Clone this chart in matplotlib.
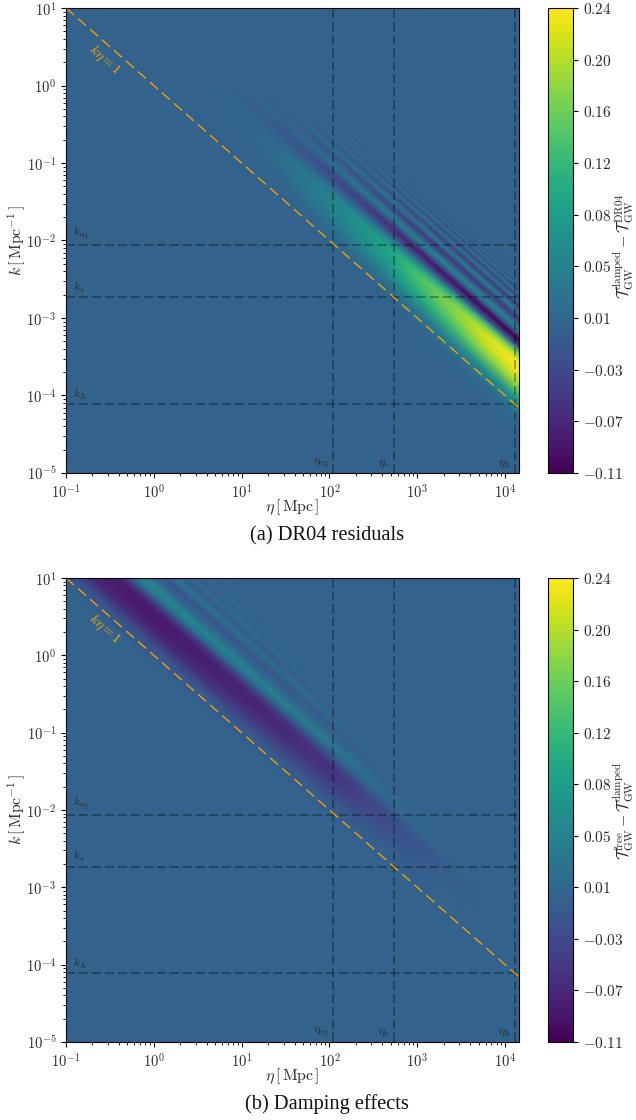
import numpy as np
import matplotlib
matplotlib.use("Agg")
import matplotlib.pyplot as plt
from matplotlib.ticker import FuncFormatter, LogLocator, NullFormatter

plt.rcParams["mathtext.fontset"] = "cm"
plt.rcParams["font.family"] = "Liberation Serif"

# horizon crossing scales
eta_eq, eta_star, eta_lam = 110, 540, 13000
k_eq, k_star, k_lam = 8.7e-3, 1.85e-3, 7.7e-5
eta_max = 14400

eta_ticks = [1e-1, 1e0, 1e1, 1e2, 1e3, 1e4]
k_ticks = [1e-5, 1e-4, 1e-3, 1e-2, 1e-1, 1e0, 1e1]

# panel (a): residual read along lines of constant log10(k*eta)
eta_a = [0.1, 3, 10, 30, 100, 250, 540, 1000, 2500, 6000, 14400]
u_a = [-7, -0.4, -0.1, 0.1, 0.3, 0.45, 0.58, 0.68, 0.77, 0.875, 0.95, 1.02,
       1.146, 1.23, 1.31, 1.37, 1.43, 1.477, 1.525, 1.562, 1.60, 1.633,
       1.667, 1.695, 1.724, 1.748, 1.775, 1.85, 5.3]
residual_a = [
    [0, 0, 0, 0, 0, 0, 0, 0, 0, 0, 0],
    [0, 0, 0, 0, 0, 0, 0, 0, 0, 0, 0],
    [0, 0, 0, 0, 0, 0, 0, .003, .006, .01, .015],
    [0, 0, 0, 0, .008, .012, .02, .03, .045, .06, .08],
    [0, 0, 0, .008, .03, .05, .072, .1, .135, .17, .195],
    [0, 0, .002, .015, .042, .07, .095, .13, .17, .21, .235],
    [0, 0, .003, .015, .042, .07, .1, .135, .175, .215, .24],
    [0, 0, .002, .01, .028, .045, .065, .09, .125, .16, .185],
    [0, 0, -.001, -.004, -.008, -.01, -.01, -.005, 0, .005, .01],
    [0, 0, -.002, -.012, -.032, -.048, -.065, -.08, -.095, -.105, -.11],
    [0, 0, -.001, -.005, -.01, -.015, -.02, -.02, -.02, -.02, -.02],
    [0, 0, 0, .001, .018, .03, .04, .048, .05, .05, .05],
    [0, 0, -.001, -.004, -.018, -.026, -.038, -.05, -.055, -.055, -.055],
    [0, 0, 0, .001, .014, .02, .026, .03, .035, .04, .04],
    [0, 0, 0, -.002, -.014, -.02, -.028, -.036, -.045, -.05, -.05],
    [0, 0, 0, 0, .009, .014, .019, .023, .028, .03, .032],
    [0, 0, 0, -.001, -.009, -.014, -.02, -.027, -.035, -.04, -.042],
    [0, 0, 0, 0, .005, .009, .013, .017, .022, .025, .028],
    [0, 0, 0, 0, -.004, -.008, -.013, -.019, -.026, -.03, -.034],
    [0, 0, 0, 0, .002, .005, .009, .013, .017, .02, .022],
    [0, 0, 0, 0, -.002, -.004, -.008, -.012, -.018, -.022, -.026],
    [0, 0, 0, 0, 0, .002, .005, .008, .012, .015, .017],
    [0, 0, 0, 0, 0, -.002, -.004, -.007, -.011, -.015, -.018],
    [0, 0, 0, 0, 0, 0, .003, .005, .008, .011, .013],
    [0, 0, 0, 0, 0, 0, -.001, -.003, -.007, -.01, -.012],
    [0, 0, 0, 0, 0, 0, .001, .003, .005, .007, .008],
    [0, 0, 0, 0, 0, 0, 0, -.001, -.003, -.005, -.006],
    [0, 0, 0, 0, 0, 0, 0, 0, 0, 0, 0],
    [0, 0, 0, 0, 0, 0, 0, 0, 0, 0, 0],
]

# panel (b): damped vs free
eta_b = [0.1, 1, 3, 10, 30, 100, 250, 540, 1000, 2500, 14400]
u_b = [-7, -0.15, 0.1, 0.3, 0.45, 0.58, 0.68, 0.77, 0.875, 0.98, 1.125,
       1.24, 1.34, 1.43, 1.52, 1.6, 1.67, 1.75, 1.85, 5.3]
residual_b = [
    [0, 0, 0, 0, 0, 0, 0, 0, 0, 0, 0],
    [0, 0, 0, 0, 0, 0, 0, 0, 0, 0, 0],
    [-.02, -.02, -.018, -.015, -.012, -.008, -.005, -.003, -.002, 0, 0],
    [-.07, -.07, -.065, -.055, -.045, -.035, -.022, -.015, -.01, -.003, 0],
    [-.085, -.085, -.08, -.072, -.065, -.055, -.035, -.024, -.015, -.005, 0],
    [-.085, -.085, -.08, -.075, -.07, -.06, -.04, -.028, -.018, -.006, 0],
    [-.05, -.05, -.05, -.05, -.045, -.035, -.02, -.012, -.008, -.002, 0],
    [.01, .01, .01, .008, .005, .002, .001, .001, 0, 0, 0],
    [.05, .05, .05, .045, .04, .03, .018, .01, .004, 0, 0],
    [.015, .015, .015, .012, .008, .005, .003, .001, 0, 0, 0],
    [-.02, -.02, -.02, -.018, -.015, -.01, -.006, -.002, 0, 0, 0],
    [.025, .025, .025, .02, .015, .012, .006, .002, 0, 0, 0],
    [-.012, -.012, -.012, -.011, -.009, -.006, -.003, -.001, 0, 0, 0],
    [.015, .015, .015, .012, .009, .006, .003, .001, 0, 0, 0],
    [-.007, -.007, -.007, -.006, -.005, -.003, -.001, 0, 0, 0, 0],
    [.009, .009, .009, .007, .005, .003, .001, 0, 0, 0, 0],
    [-.004, -.004, -.004, -.003, -.002, -.001, 0, 0, 0, 0, 0],
    [.004, .004, .004, .003, .002, .001, 0, 0, 0, 0, 0],
    [0, 0, 0, 0, 0, 0, 0, 0, 0, 0, 0],
    [0, 0, 0, 0, 0, 0, 0, 0, 0, 0, 0],
]

vmin, vmax = -0.11, 0.24
cbar_ticks = np.linspace(vmin, vmax, 10)

W, H = 636, 1120
fig = plt.figure(figsize=(W / 100, H / 100), dpi=100)
TEXT = "#2b2b2b"


def box(left, top, right, bottom):
    return [left / W, 1 - bottom / H, (right - left) / W, (bottom - top) / H]


def panel(top, bottom, etas, us, table, label, label_y, caption, cap_y):
    ax = fig.add_axes(box(66, top, 519, bottom))
    cax = fig.add_axes(box(548, top, 573, bottom))

    eta_grid, u_grid = np.meshgrid(etas, us)
    k_grid = 10.0 ** u_grid / eta_grid
    mesh = ax.pcolormesh(eta_grid, k_grid, np.array(table), shading="gouraud",
                         cmap="viridis", vmin=vmin, vmax=vmax)
    ax.set_xscale("log")
    ax.set_yscale("log")

    # reference scales
    dash = dict(color="black", alpha=0.4, lw=1.1, dashes=(5.9, 2.6))
    for e in (eta_eq, eta_star, eta_lam):
        ax.axvline(e, **dash)
    for k in (k_eq, k_star, k_lam):
        ax.axhline(k, **dash)

    eta_line = np.array([0.1, eta_max])
    ax.plot(eta_line, 1 / eta_line, color="orange", lw=0.9, dashes=(8.5, 4.3))

    for k, name in zip((k_eq, k_star, k_lam),
                       (r"$k_{\rm eq}$", r"$k_{*}$", r"$k_{\Lambda}$")):
        ax.annotate(name, (0.1, k), xytext=(5, 2), textcoords="offset points",
                    fontsize=8.5, color=TEXT, va="bottom", ha="left")
    for e, name in zip((eta_eq, eta_star, eta_lam),
                       (r"$\eta_{\rm eq}$", r"$\eta_{*}$", r"$\eta_{\Lambda}$")):
        ax.annotate(name, (e, 1e-5), xytext=(-3, 2), textcoords="offset points",
                    fontsize=8.5, color=TEXT, va="bottom", ha="right")
    ax.text(0.278, 2.15, r"$k\eta = 1$", color="orange", fontsize=10, rotation=-41,
            ha="center", va="center", rotation_mode="anchor")

    ax.set_xlabel(r"$\eta\,[\,\mathrm{Mpc}\,]$", fontsize=11.5, color=TEXT, labelpad=-2)
    ax.set_ylabel(r"$k\,[\,\mathrm{Mpc}^{-1}\,]$", fontsize=11.5, color=TEXT, labelpad=-1)

    decade = FuncFormatter(lambda v, pos: r"$10^{%d}$" % round(np.log10(v)))
    ax.set_xticks(eta_ticks)
    ax.set_yticks(k_ticks)
    for axis in (ax.xaxis, ax.yaxis):
        axis.set_minor_locator(LogLocator(base=10, subs=np.arange(2, 10), numticks=12))
        axis.set_major_formatter(decade)
        axis.set_minor_formatter(NullFormatter())
    ax.set_xlim(0.1, eta_max)
    ax.set_ylim(1e-5, 10)
    ax.tick_params(which="major", labelsize=10.5, labelcolor=TEXT, length=3.5, width=0.8)
    ax.tick_params(which="minor", length=2, width=0.6)

    cbar = fig.colorbar(mesh, cax=cax, ticks=cbar_ticks,
                        format=FuncFormatter(lambda v, pos: "$%.2f$" % v))
    cbar.ax.tick_params(labelsize=11, labelcolor=TEXT, length=3.5, width=0.8)
    fig.text(624 / W, 1 - label_y / H, label, fontsize=11.5, color=TEXT,
             rotation=90, ha="center", va="center")

    fig.text(327 / W, 1 - cap_y / H, caption, fontsize=14.7, color="#111111",
             ha="center", va="center")


panel(8, 473, eta_a, u_a, residual_a,
      r"$\mathcal{T}_{\rm GW}^{\rm damped} - \mathcal{T}_{\rm GW}^{\rm DR04}$", 246,
      "(a) DR04 residuals", 536)
panel(578, 1042, eta_b, u_b, residual_b,
      r"$\mathcal{T}_{\rm GW}^{\rm free} - \mathcal{T}_{\rm GW}^{\rm damped}$", 811,
      "(b) Damping effects", 1104)

fig.savefig("out.png", dpi=100)
